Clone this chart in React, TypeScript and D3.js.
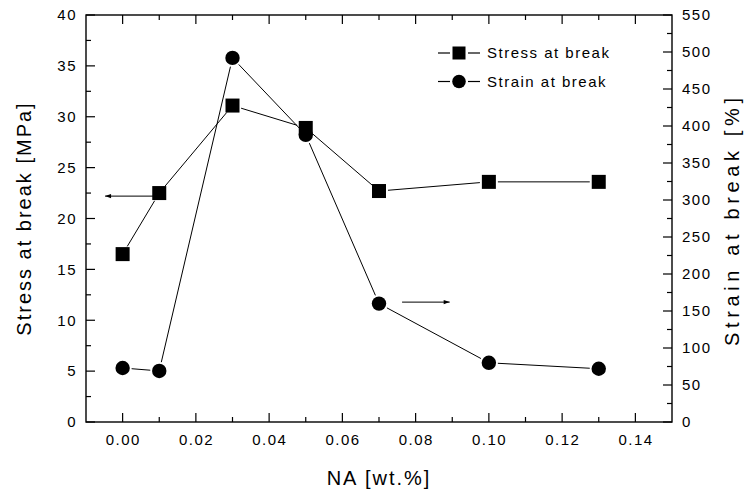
import React, { useEffect, useRef } from 'react';
import * as d3 from 'd3';

// NA content [wt.%] and measured values
const naContent = [0, 0.01, 0.03, 0.05, 0.07, 0.10, 0.13];
const stressAtBreak = [16.5, 22.5, 31.1, 28.9, 22.7, 23.6, 23.6];
const strainAtBreak = [73, 69, 492, 388, 160, 80, 72];

const xTicks = [0, 0.02, 0.04, 0.06, 0.08, 0.10, 0.12, 0.14];
const xMinorTicks = [0.01, 0.03, 0.05, 0.07, 0.09, 0.11, 0.13];
const stressTicks = [0, 5, 10, 15, 20, 25, 30, 35, 40];
const stressMinorTicks = [2.5, 7.5, 12.5, 17.5, 22.5, 27.5, 32.5, 37.5];
const strainTicks = [0, 50, 100, 150, 200, 250, 300, 350, 400, 450, 500, 550];
const strainMinorTicks = [25, 75, 125, 175, 225, 275, 325, 375, 425, 475, 525];

const seriesNames = ['Stress at break', 'Strain at break'];

// arrows telling which axis belongs to which series (data units)
const stressArrow = { from: 0.0083, to: -0.0048, value: 22.2 };
const strainArrow = { from: 0.0763, to: 0.0893, value: 162 };

const FONT = '"Liberation Sans", Arial, sans-serif';

const App = () => {
  const chart = useRef<SVGSVGElement>(null);
  const width = 746;
  const height = 490;
  const margin = { top: 15, right: 74, bottom: 68, left: 86 };

  const x = d3.scaleLinear()
    .domain([-0.01, 0.15])
    .range([margin.left, width - margin.right]);
  const yStress = d3.scaleLinear()
    .domain([0, 40])
    .range([height - margin.bottom, margin.top]);
  const yStrain = d3.scaleLinear()
    .domain([0, 550])
    .range([height - margin.bottom, margin.top]);

  const draw = () => {
    const svg = d3.select(chart.current);
    svg.selectAll('*').remove();
    const x0 = margin.left;
    const x1 = width - margin.right;
    const y0 = height - margin.bottom;
    const y1 = margin.top;
    const major = 9;
    const minor = 5;

    svg.append('defs').append('marker')
      .attr('id', 'head')
      .attr('viewBox', '0 0 10 10')
      .attr('refX', 10)
      .attr('refY', 5)
      .attr('markerWidth', 9)
      .attr('markerHeight', 6)
      .attr('markerUnits', 'userSpaceOnUse')
      .attr('orient', 'auto')
      .append('path')
      .attr('d', 'M0,1.5L10,5L0,8.5Z')
      .attr('fill', 'black');

    const ticks = svg.append('g')
      .attr('stroke', 'black')
      .attr('stroke-width', 1.2);

    // x ticks, bottom and top
    [[xTicks, major], [xMinorTicks, minor]].forEach(([vals, len]: any) => {
      vals.forEach((v: number) => {
        ticks.append('line')
          .attr('x1', x(v)).attr('x2', x(v))
          .attr('y1', y0).attr('y2', y0 - len);
        ticks.append('line')
          .attr('x1', x(v)).attr('x2', x(v))
          .attr('y1', y1).attr('y2', y1 + len);
      });
    });
    // left ticks (stress)
    [[stressTicks, major], [stressMinorTicks, minor]].forEach(([vals, len]: any) => {
      vals.forEach((v: number) => {
        ticks.append('line')
          .attr('x1', x0).attr('x2', x0 + len)
          .attr('y1', yStress(v)).attr('y2', yStress(v));
      });
    });
    // right ticks (strain)
    [[strainTicks, major], [strainMinorTicks, minor]].forEach(([vals, len]: any) => {
      vals.forEach((v: number) => {
        ticks.append('line')
          .attr('x1', x1).attr('x2', x1 - len)
          .attr('y1', yStrain(v)).attr('y2', yStrain(v));
      });
    });

    svg.append('rect')
      .attr('x', x0).attr('y', y1)
      .attr('width', x1 - x0).attr('height', y0 - y1)
      .attr('fill', 'none')
      .attr('stroke', 'black')
      .attr('stroke-width', 1.4);

    const labels = svg.append('g')
      .attr('font-family', FONT)
      .attr('font-size', 15)
      .attr('letter-spacing', 1.5)
      .attr('fill', 'black');

    labels.selectAll('.xl')
      .data(xTicks)
      .join('text')
      .attr('x', d => x(d) + 0.75)
      .attr('y', y0 + 23)
      .attr('text-anchor', 'middle')
      .text(d => d3.format('.2f')(d));

    labels.selectAll('.yl')
      .data(stressTicks)
      .join('text')
      .attr('x', x0 - 9)
      .attr('y', d => yStress(d))
      .attr('dy', '0.35em')
      .attr('text-anchor', 'end')
      .text(d => d);

    labels.selectAll('.yr')
      .data(strainTicks)
      .join('text')
      .attr('x', x1 + 10)
      .attr('y', d => yStrain(d))
      .attr('dy', '0.35em')
      .attr('text-anchor', 'start')
      .text(d => d);

    const titles = svg.append('g')
      .attr('font-family', FONT)
      .attr('font-size', 20)
      .attr('letter-spacing', 2)
      .attr('text-anchor', 'middle')
      .attr('fill', 'black');

    titles.append('text')
      .attr('x', (x0 + x1) / 2)
      .attr('y', 485)
      .text('NA [wt.%]');
    titles.append('text')
      .attr('transform', `translate(31,${(y0 + y1) / 2}) rotate(-90)`)
      .text('Stress at break [MPa]');
    titles.append('text')
      .attr('transform', `translate(739,222) rotate(-90)`)
      .attr('letter-spacing', 0)
      .attr('textLength', 248)
      .attr('lengthAdjust', 'spacing')
      .text('Strain at break [%]');

    // connecting lines with small gaps at the markers
    const gap = 9;
    const segments = (pts: [number, number][]) => d3.pairs(pts).map(([a, b]) => {
      const dx = b[0] - a[0];
      const dy = b[1] - a[1];
      const len = Math.hypot(dx, dy);
      const ux = dx / len;
      const uy = dy / len;
      return [a[0] + ux * gap, a[1] + uy * gap, b[0] - ux * gap, b[1] - uy * gap];
    });

    const stressPts = naContent.map((d, i) => [x(d), yStress(stressAtBreak[i])] as [number, number]);
    const strainPts = naContent.map((d, i) => [x(d), yStrain(strainAtBreak[i])] as [number, number]);

    const lines = svg.append('g')
      .attr('stroke', 'black')
      .attr('stroke-width', 1);
    [stressPts, strainPts].forEach(pts => {
      segments(pts).forEach(s => {
        lines.append('line')
          .attr('x1', s[0]).attr('y1', s[1])
          .attr('x2', s[2]).attr('y2', s[3]);
      });
    });

    const sq = 14;
    svg.append('g')
      .selectAll('rect')
      .data(stressPts)
      .join('rect')
      .attr('x', d => d[0] - sq / 2)
      .attr('y', d => d[1] - sq / 2)
      .attr('width', sq)
      .attr('height', sq)
      .attr('fill', 'black');

    svg.append('g')
      .selectAll('circle')
      .data(strainPts)
      .join('circle')
      .attr('cx', d => d[0])
      .attr('cy', d => d[1])
      .attr('r', 7.2)
      .attr('fill', 'black');

    // arrows
    const arrows = svg.append('g')
      .attr('stroke', 'black')
      .attr('stroke-width', 1);
    arrows.append('line')
      .attr('x1', x(stressArrow.from)).attr('x2', x(stressArrow.to))
      .attr('y1', yStress(stressArrow.value)).attr('y2', yStress(stressArrow.value))
      .attr('marker-end', 'url(#head)');
    arrows.append('line')
      .attr('x1', x(strainArrow.from)).attr('x2', x(strainArrow.to))
      .attr('y1', yStrain(strainArrow.value)).attr('y2', yStrain(strainArrow.value))
      .attr('marker-end', 'url(#head)');

    // legend
    const legend = svg.append('g')
      .attr('transform', 'translate(438,53)');
    seriesNames.forEach((name, i) => {
      const g = legend.append('g')
        .attr('transform', `translate(0,${i * 28.5})`);
      g.append('line')
        .attr('x1', 0).attr('x2', 12)
        .attr('stroke', 'black').attr('stroke-width', 1.2);
      g.append('line')
        .attr('x1', 30).attr('x2', 42)
        .attr('stroke', 'black').attr('stroke-width', 1.2);
      if (i === 0) {
        g.append('rect')
          .attr('x', 14.5).attr('y', -6.5)
          .attr('width', 13).attr('height', 13)
          .attr('fill', 'black');
      } else {
        g.append('circle')
          .attr('cx', 21).attr('cy', 0)
          .attr('r', 6.8)
          .attr('fill', 'black');
      }
      g.append('text')
        .attr('x', 49)
        .attr('y', 0)
        .attr('dy', '0.35em')
        .attr('font-family', FONT)
        .attr('font-size', 15)
        .attr('letter-spacing', 1.5)
        .text(name);
    });
  };

  useEffect(() => {
    draw();
  }, []);

  return (
    <svg
      ref={chart}
      width={width}
      height={height}
      style={{ position: 'absolute', left: 0, top: 0, background: 'white' }}
    />
  );
};

export default App;
